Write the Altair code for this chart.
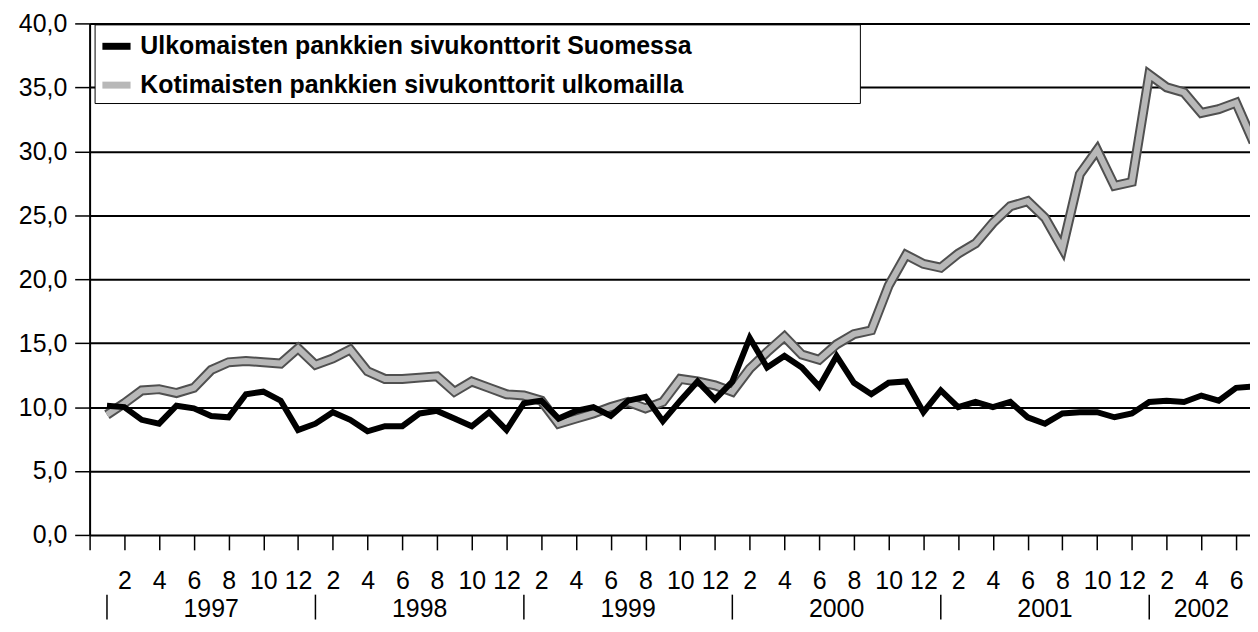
import altair as alt
import pandas as pd

# ---- data ----
years = [1997, 1998, 1999, 2000, 2001, 2002]
month_numbers = [1, 2, 3, 4, 5, 6, 7, 8, 9, 10, 11, 12]
series_names = [
    "Ulkomaisten pankkien sivukonttorit Suomessa",
    "Kotimaisten pankkien sivukonttorit ulkomailla",
]

# Jan 1997 ... Jul 2002 (monthly)
ulkomaiset = [
    10.1, 10.0, 9.0, 8.7, 10.1, 9.9, 9.3, 9.2, 11.0, 11.2, 10.5, 8.2,
    8.7, 9.6, 9.0, 8.1, 8.5, 8.5, 9.5, 9.7, 9.1, 8.5, 9.6, 8.2,
    10.3, 10.5, 9.1, 9.7, 10.0, 9.3, 10.5, 10.8, 8.9, 10.5, 12.0, 10.6,
    12.0, 15.4, 13.1, 14.0, 13.1, 11.6, 14.0, 11.9, 11.0, 11.9, 12.0, 9.6,
    11.3, 10.0, 10.4, 10.0, 10.4, 9.2, 8.7, 9.5, 9.6, 9.6, 9.2, 9.5,
    10.4, 10.5, 10.4, 10.9, 10.5, 11.5, 11.6,
]
kotimaiset = [
    9.4, 10.3, 11.3, 11.4, 11.1, 11.5, 12.9, 13.5, 13.6, 13.5, 13.4, 14.6,
    13.3, 13.8, 14.5, 12.8, 12.2, 12.2, 12.3, 12.4, 11.2, 12.0, 11.5, 11.0,
    10.9, 10.5, 8.7, 9.1, 9.5, 10.0, 10.4, 9.9, 10.4, 12.2, 12.0, 11.7,
    11.2, 13.0, 14.3, 15.5, 14.1, 13.7, 14.9, 15.7, 16.0, 19.5, 21.9, 21.2,
    20.9, 22.0, 22.8, 24.4, 25.7, 26.1, 24.8, 22.4, 28.2, 30.1, 27.3, 27.6,
    36.0, 35.0, 34.6, 33.0, 33.3, 33.8, 30.7,
]
y_ticks = [0, 5, 10, 15, 20, 25, 30, 35, 40]

# ---- tables built from the arrays ----
periods = [(y, m) for y in years for m in month_numbers][: len(ulkomaiset)]
idx = list(range(1, len(periods) + 1))  # 0 = Dec 1996 (axis origin)

rows = []
for name, vals in [(series_names[1], kotimaiset), (series_names[0], ulkomaiset)]:
    for i, (p, v) in enumerate(zip(periods, vals)):
        rows.append({"idx": idx[i], "year": p[0], "month": p[1], "value": v, "series": name})
df = pd.DataFrame(rows)

last_idx = idx[-1]
year_rows = []
for y in years:
    starts = [idx[k] for k, p in enumerate(periods) if p[0] == y]
    s = starts[0]
    e = min(s + 12, last_idx)
    year_rows.append({"year": str(y), "idx": s, "center": (s + e) / 2})
years_df = pd.DataFrame(year_rows)

x_ticks = list(range(0, last_idx, 2))

FONT = "Liberation Sans"
W, H = 1166, 514
x_scale = alt.Scale(domain=[0, 66.8], nice=False, zero=False)
y_scale = alt.Scale(domain=[0, 40], nice=False)

x_axis = alt.Axis(
    values=x_ticks,
    labelExpr="datum.value < 1 ? '' : toString(((datum.value + 11) % 12) + 1)",
    title="",
    grid=False,
    domain=False,
    ticks=True,
    tickSize=15,
    tickColor="black",
    tickWidth=1.5,
    labelFont=FONT,
    labelFontSize=25,
    labelColor="black",
    labelPadding=19,
    labelFlush=False,
    labelOverlap=False,
)
y_axis = alt.Axis(
    values=y_ticks,
    labelExpr="replace(format(datum.value, '.1f'), '.', ',')",
    title="",
    grid=True,
    gridColor="black",
    gridWidth=2,
    gridOpacity=1,
    domain=True,
    domainColor="black",
    domainWidth=2,
    tickSize=15,
    tickColor="black",
    tickWidth=1.5,
    labelFont=FONT,
    labelFontSize=25,
    labelColor="black",
    labelPadding=8,
)

x_enc = alt.X("idx:Q", scale=x_scale, axis=x_axis)
y_enc = alt.Y("value:Q", scale=y_scale, axis=y_axis)

base = alt.Chart(df)

gray_outer = (
    base.transform_filter(alt.datum.series == series_names[1])
    .mark_line(clip=True, color="#505050", strokeWidth=10)
    .encode(x=x_enc, y=y_enc)
)

main = base.mark_line(clip=True, strokeWidth=6).encode(
    x=x_enc,
    y=y_enc,
    color=alt.Color(
        "series:N",
        scale=alt.Scale(domain=series_names, range=["#000000", "#b8b8b8"]),
        sort=series_names,
        legend=alt.Legend(
            orient="none",
            legendX=5,
            legendY=1,
            title="\u00a0",
            titleOrient="right",
            titlePadding=165,
            padding=4,
            rowPadding=7,
            labelFont=FONT,
            labelFontSize=25,
            labelFontWeight="bold",
            labelColor="black",
            labelLimit=1000,
            labelOffset=6,
            symbolType="stroke",
            symbolSize=800,
            symbolStrokeWidth=7,
            strokeColor="black",
            fillColor="white",
        ),
    ),
)

year_sep = (
    alt.Chart(years_df)
    .mark_rule(color="black", strokeWidth=1.5)
    .encode(x=alt.X("idx:Q", scale=x_scale, axis=x_axis), y=alt.value(574), y2=alt.value(599))
)
year_text = (
    alt.Chart(years_df)
    .mark_text(font=FONT, fontSize=25, align="center", baseline="alphabetic", color="black")
    .encode(x=alt.X("center:Q", scale=x_scale, axis=x_axis), y=alt.value(596), text="year:N")
)

chart = (
    alt.layer(gray_outer, main, year_sep, year_text)
    .properties(width=W, height=H, padding={"left": 10, "top": 2, "right": 0, "bottom": 0})
    .configure_view(strokeWidth=0)
    .configure_legend(strokeWidth=2)
    .configure(background="white")
)

chart.save("out.html", embed_options={"renderer": "svg", "actions": False})
